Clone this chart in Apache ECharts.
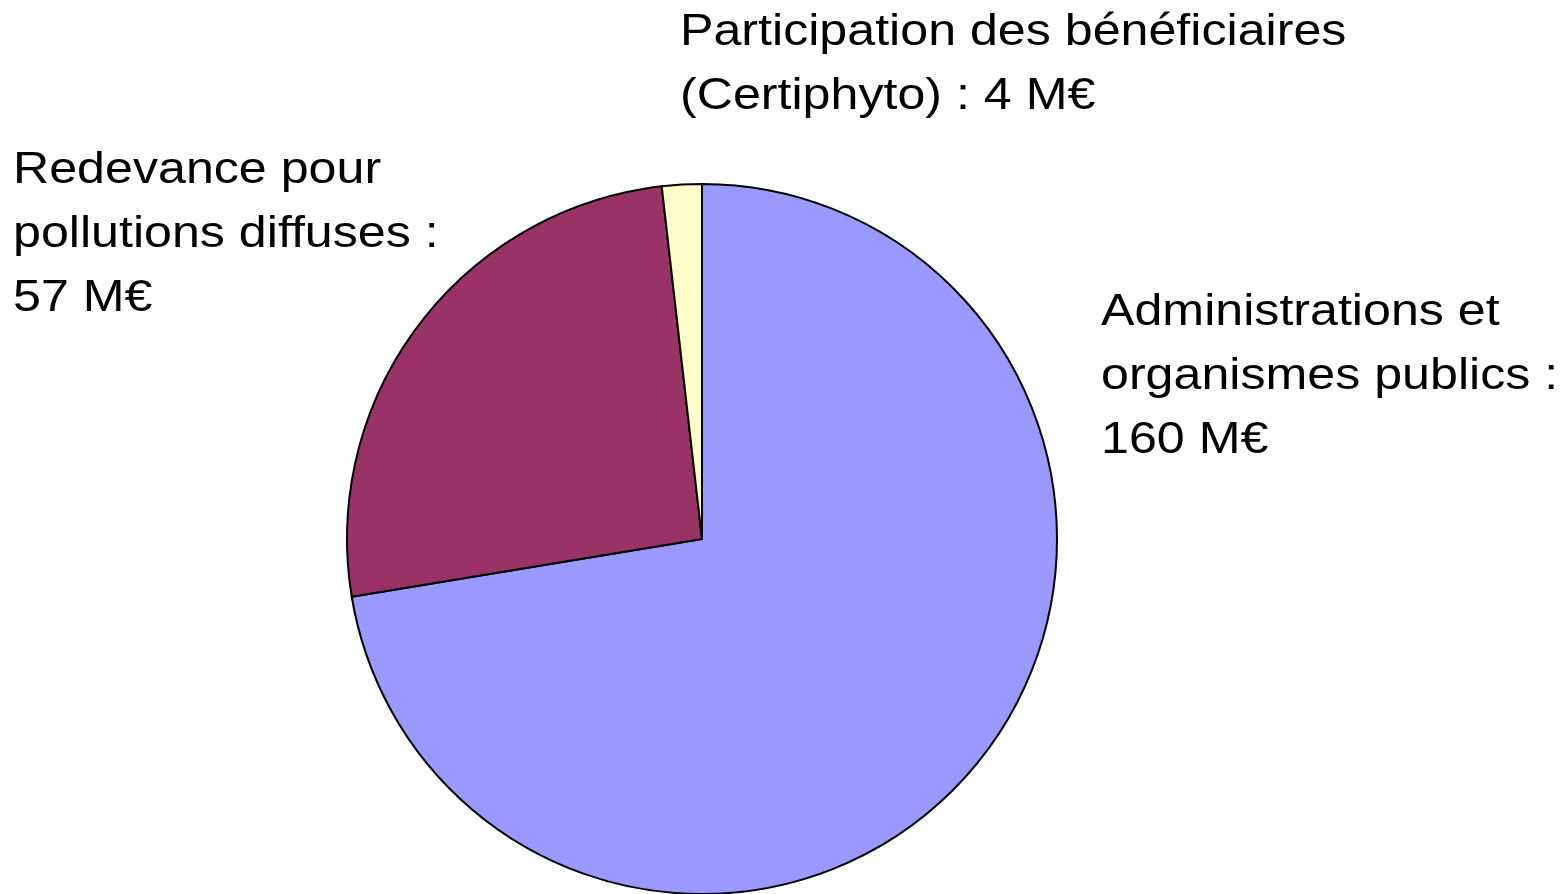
<!DOCTYPE html>
<html>
<head>
<meta charset="utf-8">
<script src="https://cdn.jsdelivr.net/npm/echarts@6/dist/echarts.min.js"></script>
<style>
  html, body { margin: 0; padding: 0; background: #fff; }
  #chart { width: 1560px; height: 894px; }
</style>
</head>
<body>
<div id="chart"></div>
<script>
// données (M€)
const categories = [
  'Administrations et\norganismes publics :',
  'Redevance pour\npollutions diffuses :',
  'Participation des bénéficiaires\n(Certiphyto) :'
];
const values = [160, 57, 4];
const colors = ['#9999ff', '#993366', '#ffffcc'];

// coin haut gauche de chaque étiquette
const labelPos = [
  [1101, 281],
  [13, 139],
  [680, 1]
];

// texte de l'étiquette : la petite part garde la valeur sur la même ligne
function labelText(i) {
  const sep = i === 2 ? ' ' : '\n';
  return categories[i] + sep + values[i] + ' M€';
}

const chart = echarts.init(document.getElementById('chart'));

chart.setOption({
  animation: false,
  series: [
    {
      type: 'pie',
      center: [702, 539],
      radius: 355,
      startAngle: 90,
      clockwise: true,
      data: categories.map((name, i) => ({
        name: name,
        value: values[i],
        itemStyle: { color: colors[i] }
      })),
      itemStyle: { borderColor: '#000', borderWidth: 2 },
      label: { show: false },
      labelLine: { show: false },
      emphasis: { disabled: true }
    }
  ],
  // le texte de l'original est un peu étiré en largeur
  graphic: categories.map((c, i) => ({
    type: 'text',
    x: labelPos[i][0],
    y: labelPos[i][1],
    scaleX: 1.14,
    silent: true,
    style: {
      text: labelText(i),
      fill: '#000',
      fontFamily: 'Liberation Sans, Arial, sans-serif',
      fontSize: 44,
      lineHeight: 64,
      align: 'left',
      verticalAlign: 'top'
    }
  }))
});
</script>
</body>
</html>
